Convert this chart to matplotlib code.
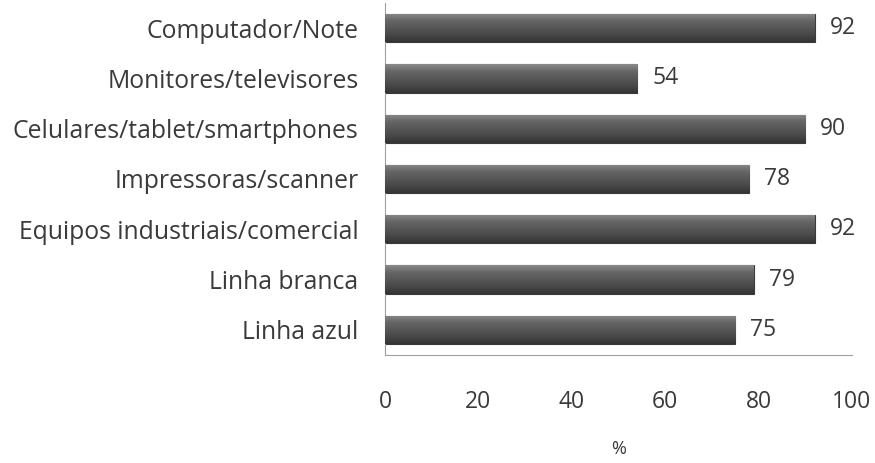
import matplotlib.pyplot as plt
import numpy as np
from matplotlib.colors import LinearSegmentedColormap

categories = ["Computador/Note", "Monitores/televisores", "Celulares/tablet/smartphones",
              "Impressoras/scanner", "Equipos industriais/comercial", "Linha branca", "Linha azul"]
values = [92, 54, 90, 78, 92, 79, 75]
xticks = [0, 20, 40, 60, 80, 100]

plt.rcParams['font.family'] = ['Open Sans', 'DejaVu Sans']

fig = plt.figure(figsize=(8.75, 4.63), dpi=100)
ax = fig.add_axes([0.44, 0.2333, 0.5337, 0.7602])

ypos = np.arange(len(categories))[::-1]
bars = ax.barh(ypos, values, height=0.56, color="#555555", edgecolor="#3a3a3a", linewidth=0.8, zorder=2)

# vertical shading for the glossy look
shade = LinearSegmentedColormap.from_list("shade", ["#343434", "#484848", "#575757", "#666666", "#8a8a8a"])
grad = np.linspace(0, 1, 64).reshape(-1, 1)
for b in bars:
    x0, y0, w, h = b.get_x(), b.get_y(), b.get_width(), b.get_height()
    im = ax.imshow(grad, cmap=shade, aspect="auto", origin="lower",
                   extent=[x0, x0 + w, y0, y0 + h], zorder=3)
    im.set_clip_path(b)
    ax.text(w + 3.2, y0 + h / 2, f"{w:g}", va="center", ha="left", fontsize=16.5, color="#3a3a3a")

ax.set_xlim(0, 100)
ax.set_ylim(-0.5, len(categories) - 0.5)
ax.set_yticks(ypos)
ax.set_yticklabels(categories, fontsize=17.8, color="#3a3a3a")
ax.set_xticks(xticks)
ax.set_xticklabels([str(t) for t in xticks], fontsize=16.5, color="#3a3a3a")
ax.tick_params(axis="both", length=0)
ax.tick_params(axis="x", pad=25)
ax.tick_params(axis="y", pad=19)
ax.set_xlabel("%", fontsize=13, color="#3a3a3a", labelpad=19)

for s in ["top", "right"]:
    ax.spines[s].set_visible(False)
ax.spines["left"].set_color("#a0a0a0")
ax.spines["bottom"].set_color("#a0a0a0")

fig.savefig("out.png", dpi=100)
